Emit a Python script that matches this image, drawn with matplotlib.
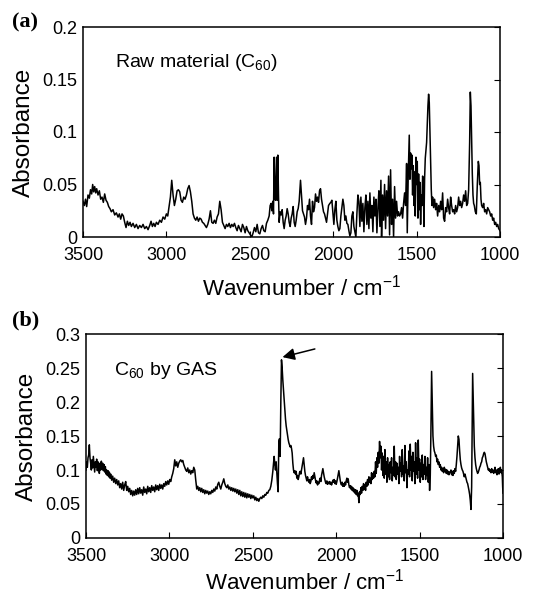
import matplotlib
matplotlib.use("Agg")
import matplotlib.pyplot as plt

# ---------------- data ----------------
wn_a = [3500, 3492, 3485, 3478, 3470, 3462, 3455, 3448, 3442, 3436, 3430, 3424, 3418, 3410, 3402, 3394, 3386, 3378, 3370, 3362,
        3354, 3346, 3338, 3330, 3320, 3310, 3300, 3290, 3282, 3274, 3266, 3258, 3250, 3242, 3234, 3226, 3218, 3210, 3200, 3190,
        3180, 3170, 3160, 3150, 3140, 3130, 3120, 3110, 3100, 3092, 3084, 3076, 3068, 3060, 3050, 3040, 3030, 3020, 3010, 3000,
        2992, 2984, 2976, 2968, 2960, 2952, 2944, 2936, 2928, 2920, 2912, 2904, 2896, 2888, 2880, 2872, 2864, 2856, 2848, 2840,
        2832, 2824, 2816, 2808, 2800, 2792, 2784, 2776, 2768, 2760, 2752, 2744, 2736, 2728, 2720, 2712, 2704, 2696, 2688, 2680,
        2672, 2664, 2656, 2648, 2640, 2632, 2624, 2616, 2608, 2600, 2592, 2584, 2576, 2568, 2560, 2552, 2544, 2536, 2528, 2520,
        2512, 2504, 2496, 2488, 2480, 2472, 2464, 2456, 2448, 2440, 2432, 2424, 2416, 2408, 2400, 2392, 2384, 2378, 2372, 2368,
        2362, 2358, 2354, 2350, 2346, 2340, 2336, 2332, 2328, 2324, 2318, 2312, 2306, 2300, 2294, 2288, 2282, 2276, 2270, 2264,
        2258, 2252, 2246, 2240, 2234, 2228, 2222, 2216, 2210, 2204, 2196, 2190, 2184, 2178, 2172, 2166, 2160, 2154, 2148, 2142,
        2136, 2130, 2124, 2118, 2112, 2106, 2100, 2094, 2088, 2082, 2076, 2070, 2064, 2058, 2052, 2046, 2040, 2034, 2028, 2020,
        2014, 2008, 2002, 1996, 1990, 1984, 1978, 1972, 1966, 1960, 1954, 1948, 1942, 1936, 1930, 1924, 1918, 1912, 1906, 1900,
        1894, 1888, 1882, 1876, 1870, 1864, 1858, 1852, 1846, 1840, 1834, 1828, 1822, 1816, 1810, 1804, 1798, 1792, 1786, 1780,
        1774, 1768, 1762, 1756, 1750, 1744, 1738, 1732, 1726, 1720, 1714, 1710, 1704, 1698, 1692, 1686, 1680, 1674, 1668, 1662,
        1656, 1650, 1644, 1638, 1632, 1626, 1620, 1614, 1608, 1602, 1596, 1590, 1584, 1578, 1572, 1566, 1560, 1556, 1550, 1544,
        1540, 1536, 1532, 1528, 1524, 1520, 1516, 1512, 1508, 1504, 1500, 1496, 1492, 1488, 1484, 1480, 1476, 1472, 1468, 1464,
        1460, 1456, 1452, 1448, 1444, 1440, 1436, 1432, 1428, 1424, 1420, 1416, 1412, 1408, 1404, 1398, 1392, 1386, 1380, 1374,
        1368, 1362, 1356, 1350, 1344, 1338, 1332, 1326, 1320, 1314, 1308, 1302, 1296, 1290, 1284, 1278, 1272, 1266, 1260, 1254,
        1248, 1242, 1236, 1230, 1224, 1218, 1212, 1206, 1200, 1194, 1188, 1182, 1178, 1174, 1170, 1166, 1162, 1158, 1154, 1148,
        1142, 1136, 1130, 1126, 1122, 1118, 1114, 1110, 1104, 1098, 1092, 1086, 1080, 1074, 1068, 1062, 1056, 1050, 1044, 1038,
        1032, 1026, 1020, 1014, 1008, 1000]
abs_a = [0.034, 0.030, 0.036, 0.029, 0.040, 0.037, 0.045, 0.041, 0.050, 0.043, 0.048, 0.042, 0.046, 0.040, 0.044, 0.036, 0.038, 0.033, 0.041, 0.035,
         0.033, 0.029, 0.027, 0.024, 0.026, 0.021, 0.023, 0.019, 0.022, 0.017, 0.022, 0.020, 0.014, 0.009, 0.015, 0.011, 0.014, 0.010, 0.013, 0.009,
         0.012, 0.008, 0.011, 0.009, 0.012, 0.008, 0.010, 0.007, 0.011, 0.015, 0.010, 0.013, 0.010, 0.014, 0.012, 0.016, 0.014, 0.019, 0.017, 0.022,
         0.020, 0.029, 0.038, 0.054, 0.040, 0.030, 0.036, 0.044, 0.045, 0.043, 0.035, 0.033, 0.038, 0.036, 0.040, 0.046, 0.049, 0.043, 0.034, 0.022,
         0.018, 0.016, 0.019, 0.015, 0.018, 0.017, 0.014, 0.013, 0.011, 0.009, 0.012, 0.017, 0.025, 0.014, 0.013, 0.016, 0.013, 0.019, 0.022, 0.034,
         0.026, 0.014, 0.011, 0.008, 0.012, 0.010, 0.013, 0.009, 0.012, 0.010, 0.013, 0.009, 0.006, 0.011, 0.008, 0.005, 0.012, 0.009, 0.004, 0.010,
         0.006, 0.004, 0.002, 0.000, 0.004, 0.009, 0.005, 0.012, 0.004, 0.003, 0.008, 0.011, 0.006, 0.005, 0.013, 0.016, 0.020, 0.030, 0.032, 0.025,
         0.034, 0.022, 0.076, 0.040, 0.035, 0.076, 0.035, 0.078, 0.040, 0.014, 0.024, 0.021, 0.026, 0.014, 0.008, 0.016, 0.020, 0.027, 0.022, 0.014,
         0.010, 0.018, 0.022, 0.029, 0.014, 0.010, 0.016, 0.024, 0.027, 0.034, 0.054, 0.040, 0.025, 0.022, 0.019, 0.012, 0.018, 0.030, 0.026, 0.036,
         0.020, 0.012, 0.034, 0.024, 0.028, 0.041, 0.034, 0.038, 0.033, 0.044, 0.046, 0.036, 0.030, 0.024, 0.022, 0.018, 0.014, 0.022, 0.030, 0.032,
         0.033, 0.035, 0.024, 0.012, 0.026, 0.034, 0.016, 0.010, 0.006, 0.008, 0.020, 0.028, 0.036, 0.030, 0.016, 0.020, 0.013, 0.012, 0.006, 0.001,
         0.004, 0.020, 0.024, 0.010, 0.005, 0.000, 0.022, 0.040, 0.034, 0.010, 0.038, 0.015, 0.032, 0.005, 0.028, 0.040, 0.012, 0.034, 0.008, 0.042,
         0.018, 0.030, 0.005, 0.038, 0.020, 0.036, 0.004, 0.028, 0.044, 0.010, 0.054, 0.000, 0.040, 0.016, 0.050, 0.008, 0.044, 0.020, 0.058, 0.002,
         0.064, 0.012, 0.036, 0.000, 0.048, 0.018, 0.034, 0.020, 0.024, 0.020, 0.022, 0.028, 0.018, 0.032, 0.042, 0.030, 0.070, 0.004, 0.060, 0.097,
         0.055, 0.080, 0.065, 0.078, 0.040, 0.068, 0.030, 0.062, 0.020, 0.076, 0.050, 0.072, 0.018, 0.060, 0.026, 0.052, 0.012, 0.040, 0.030, 0.058,
         0.055, 0.010, 0.056, 0.075, 0.082, 0.090, 0.108, 0.125, 0.136, 0.128, 0.100, 0.070, 0.045, 0.030, 0.038, 0.028, 0.036, 0.026, 0.032, 0.020,
         0.030, 0.024, 0.034, 0.026, 0.042, 0.018, 0.015, 0.028, 0.024, 0.036, 0.028, 0.022, 0.038, 0.030, 0.024, 0.026, 0.022, 0.030, 0.024, 0.028,
         0.038, 0.030, 0.034, 0.028, 0.032, 0.040, 0.034, 0.044, 0.030, 0.032, 0.045, 0.090, 0.138, 0.125, 0.090, 0.060, 0.040, 0.032, 0.030, 0.024,
         0.022, 0.050, 0.072, 0.068, 0.050, 0.052, 0.036, 0.030, 0.028, 0.032, 0.024, 0.026, 0.022, 0.028, 0.026, 0.024, 0.020, 0.022, 0.016, 0.018,
         0.012, 0.014, 0.010, 0.012, 0.008, 0.006]

wn_b = [3500, 3496, 3492, 3488, 3484, 3480, 3476, 3472, 3468, 3464, 3460, 3456, 3452, 3448, 3444, 3440, 3436, 3432, 3428, 3424,
        3420, 3416, 3412, 3408, 3404, 3400, 3396, 3392, 3388, 3384, 3380, 3376, 3372, 3368, 3364, 3360, 3356, 3352, 3346, 3340,
        3334, 3328, 3322, 3316, 3310, 3304, 3298, 3292, 3286, 3280, 3274, 3268, 3262, 3256, 3250, 3244, 3238, 3232, 3226, 3220,
        3214, 3208, 3202, 3196, 3190, 3184, 3178, 3172, 3166, 3160, 3154, 3148, 3142, 3136, 3130, 3124, 3118, 3112, 3106, 3100,
        3094, 3088, 3082, 3076, 3070, 3064, 3058, 3052, 3046, 3040, 3034, 3028, 3022, 3016, 3010, 3004, 2998, 2992, 2986, 2980,
        2974, 2968, 2962, 2956, 2950, 2944, 2938, 2932, 2926, 2920, 2914, 2908, 2902, 2896, 2890, 2884, 2878, 2872, 2866, 2860,
        2854, 2848, 2842, 2836, 2830, 2824, 2818, 2812, 2806, 2800, 2794, 2788, 2782, 2776, 2770, 2764, 2758, 2752, 2746, 2740,
        2734, 2728, 2722, 2716, 2710, 2704, 2698, 2692, 2686, 2680, 2674, 2668, 2662, 2656, 2650, 2644, 2638, 2632, 2626, 2620,
        2614, 2608, 2602, 2596, 2590, 2584, 2578, 2572, 2566, 2560, 2554, 2548, 2542, 2536, 2530, 2524, 2518, 2512, 2506, 2500,
        2494, 2488, 2482, 2476, 2470, 2464, 2458, 2452, 2446, 2440, 2434, 2428, 2422, 2416, 2410, 2404, 2398, 2392, 2386, 2380,
        2376, 2372, 2368, 2364, 2360, 2356, 2352, 2348, 2344, 2340, 2336, 2332, 2328, 2324, 2320, 2316, 2312, 2308, 2304, 2300,
        2296, 2292, 2288, 2284, 2280, 2276, 2272, 2268, 2264, 2260, 2256, 2252, 2248, 2244, 2240, 2236, 2232, 2228, 2224, 2220,
        2216, 2212, 2208, 2204, 2200, 2196, 2192, 2188, 2184, 2180, 2176, 2172, 2168, 2164, 2160, 2156, 2152, 2148, 2144, 2140,
        2136, 2132, 2128, 2124, 2120, 2116, 2112, 2108, 2104, 2100, 2096, 2092, 2088, 2084, 2080, 2076, 2072, 2068, 2064, 2060,
        2056, 2052, 2048, 2044, 2040, 2036, 2032, 2028, 2024, 2020, 2016, 2012, 2008, 2004, 2000, 1996, 1992, 1988, 1984, 1980,
        1976, 1972, 1968, 1964, 1960, 1956, 1952, 1948, 1944, 1940, 1936, 1932, 1928, 1924, 1920, 1916, 1912, 1908, 1904, 1900,
        1896, 1892, 1888, 1884, 1880, 1876, 1872, 1868, 1864, 1860, 1856, 1852, 1848, 1844, 1840, 1836, 1832, 1828, 1824, 1820,
        1816, 1812, 1808, 1804, 1800, 1796, 1792, 1788, 1784, 1780, 1776, 1772, 1768, 1764, 1760, 1756, 1752, 1748, 1744, 1740,
        1736, 1732, 1728, 1724, 1720, 1716, 1712, 1708, 1704, 1700, 1696, 1692, 1688, 1684, 1680, 1676, 1672, 1668, 1664, 1660,
        1656, 1652, 1648, 1644, 1640, 1636, 1632, 1628, 1624, 1620, 1616, 1612, 1608, 1604, 1600, 1596, 1592, 1588, 1584, 1580,
        1576, 1572, 1568, 1564, 1560, 1556, 1552, 1548, 1544, 1540, 1536, 1532, 1528, 1524, 1520, 1516, 1512, 1508, 1504, 1500,
        1496, 1492, 1488, 1484, 1480, 1476, 1472, 1468, 1464, 1460, 1456, 1452, 1448, 1444, 1440, 1436, 1432, 1428, 1424, 1420,
        1416, 1412, 1408, 1404, 1400, 1396, 1392, 1388, 1384, 1380, 1376, 1372, 1368, 1364, 1360, 1356, 1352, 1348, 1344, 1340,
        1336, 1332, 1328, 1324, 1320, 1316, 1312, 1308, 1304, 1300, 1296, 1292, 1288, 1284, 1280, 1276, 1272, 1268, 1264, 1260,
        1256, 1252, 1248, 1244, 1240, 1236, 1232, 1228, 1224, 1220, 1216, 1212, 1208, 1204, 1200, 1196, 1192, 1188, 1184, 1182,
        1180, 1176, 1172, 1168, 1164, 1160, 1156, 1152, 1148, 1144, 1140, 1136, 1132, 1128, 1124, 1120, 1116, 1112, 1108, 1104,
        1100, 1096, 1092, 1088, 1084, 1080, 1076, 1072, 1068, 1064, 1060, 1056, 1052, 1048, 1044, 1040, 1036, 1032, 1028, 1024,
        1020, 1016, 1012, 1008, 1004, 1002, 1000]
abs_b = [0.100, 0.112, 0.104, 0.118, 0.122, 0.137, 0.118, 0.110, 0.100, 0.115, 0.103, 0.120, 0.108, 0.097, 0.112, 0.104, 0.116, 0.099, 0.112, 0.105,
         0.095, 0.110, 0.100, 0.113, 0.102, 0.110, 0.099, 0.108, 0.097, 0.105, 0.094, 0.100, 0.092, 0.099, 0.090, 0.097, 0.088, 0.094, 0.085, 0.091,
         0.082, 0.088, 0.080, 0.086, 0.078, 0.084, 0.074, 0.080, 0.072, 0.082, 0.070, 0.078, 0.083, 0.070, 0.076, 0.068, 0.073, 0.064, 0.070, 0.062,
         0.069, 0.063, 0.071, 0.064, 0.073, 0.065, 0.074, 0.066, 0.071, 0.063, 0.075, 0.067, 0.072, 0.065, 0.076, 0.068, 0.074, 0.067, 0.077, 0.070,
         0.075, 0.068, 0.078, 0.071, 0.077, 0.070, 0.079, 0.073, 0.078, 0.072, 0.080, 0.076, 0.083, 0.078, 0.084, 0.079, 0.086, 0.083, 0.090, 0.095,
         0.102, 0.115, 0.106, 0.112, 0.104, 0.110, 0.113, 0.115, 0.112, 0.114, 0.108, 0.104, 0.100, 0.098, 0.103, 0.096, 0.100, 0.094, 0.099, 0.096,
         0.104, 0.100, 0.085, 0.072, 0.076, 0.070, 0.074, 0.068, 0.073, 0.067, 0.071, 0.065, 0.070, 0.066, 0.069, 0.064, 0.068, 0.065, 0.070, 0.067,
         0.072, 0.069, 0.075, 0.072, 0.079, 0.082, 0.076, 0.072, 0.078, 0.082, 0.087, 0.080, 0.076, 0.074, 0.078, 0.072, 0.075, 0.070, 0.074, 0.069,
         0.073, 0.068, 0.072, 0.066, 0.071, 0.064, 0.070, 0.062, 0.068, 0.061, 0.067, 0.060, 0.066, 0.059, 0.065, 0.060, 0.064, 0.058, 0.063, 0.059,
         0.062, 0.056, 0.060, 0.055, 0.058, 0.054, 0.058, 0.060, 0.058, 0.062, 0.060, 0.064, 0.063, 0.067, 0.066, 0.070, 0.071, 0.076, 0.085, 0.098,
         0.110, 0.120, 0.108, 0.100, 0.112, 0.095, 0.080, 0.068, 0.142, 0.146, 0.120, 0.200, 0.262, 0.250, 0.232, 0.218, 0.205, 0.190, 0.175, 0.165,
         0.158, 0.150, 0.145, 0.140, 0.137, 0.134, 0.136, 0.132, 0.125, 0.110, 0.100, 0.096, 0.099, 0.094, 0.098, 0.088, 0.092, 0.086, 0.090, 0.096,
         0.098, 0.094, 0.100, 0.105, 0.112, 0.118, 0.108, 0.098, 0.092, 0.088, 0.084, 0.090, 0.085, 0.082, 0.086, 0.080, 0.083, 0.090, 0.086, 0.092,
         0.088, 0.096, 0.090, 0.085, 0.081, 0.084, 0.078, 0.082, 0.080, 0.085, 0.088, 0.083, 0.092, 0.097, 0.102, 0.096, 0.090, 0.086, 0.082, 0.080,
         0.084, 0.079, 0.082, 0.080, 0.083, 0.079, 0.082, 0.078, 0.081, 0.085, 0.082, 0.086, 0.080, 0.084, 0.079, 0.083, 0.088, 0.094, 0.099, 0.092,
         0.085, 0.080, 0.078, 0.082, 0.076, 0.080, 0.076, 0.082, 0.078, 0.084, 0.088, 0.082, 0.087, 0.078, 0.074, 0.077, 0.072, 0.076, 0.070, 0.074,
         0.068, 0.072, 0.066, 0.071, 0.064, 0.070, 0.062, 0.066, 0.052, 0.068, 0.064, 0.074, 0.066, 0.076, 0.070, 0.080, 0.072, 0.078, 0.070, 0.082,
         0.076, 0.086, 0.078, 0.090, 0.082, 0.088, 0.080, 0.096, 0.086, 0.094, 0.088, 0.098, 0.090, 0.112, 0.095, 0.118, 0.104, 0.126, 0.110, 0.142,
         0.118, 0.135, 0.100, 0.125, 0.092, 0.120, 0.088, 0.130, 0.094, 0.112, 0.082, 0.118, 0.090, 0.108, 0.086, 0.112, 0.096, 0.118, 0.084, 0.104,
         0.092, 0.135, 0.090, 0.112, 0.086, 0.110, 0.094, 0.104, 0.080, 0.120, 0.098, 0.110, 0.090, 0.130, 0.094, 0.106, 0.084, 0.136, 0.096, 0.112,
         0.074, 0.100, 0.094, 0.128, 0.090, 0.138, 0.100, 0.120, 0.084, 0.126, 0.098, 0.112, 0.080, 0.140, 0.094, 0.118, 0.088, 0.144, 0.100, 0.116,
         0.082, 0.110, 0.090, 0.122, 0.086, 0.108, 0.094, 0.120, 0.086, 0.104, 0.092, 0.118, 0.082, 0.108, 0.070, 0.092, 0.160, 0.245, 0.200, 0.150,
         0.135, 0.128, 0.125, 0.120, 0.122, 0.112, 0.116, 0.108, 0.112, 0.104, 0.108, 0.100, 0.104, 0.098, 0.102, 0.096, 0.104, 0.098, 0.101, 0.095,
         0.100, 0.094, 0.098, 0.093, 0.097, 0.096, 0.100, 0.093, 0.098, 0.092, 0.099, 0.095, 0.102, 0.098, 0.108, 0.120, 0.135, 0.150, 0.145, 0.128,
         0.115, 0.108, 0.103, 0.100, 0.098, 0.094, 0.090, 0.094, 0.090, 0.086, 0.082, 0.080, 0.075, 0.070, 0.064, 0.055, 0.042, 0.075, 0.180, 0.242,
         0.220, 0.170, 0.135, 0.118, 0.108, 0.102, 0.098, 0.095, 0.097, 0.100, 0.104, 0.106, 0.110, 0.112, 0.118, 0.120, 0.124, 0.126, 0.124, 0.118,
         0.112, 0.108, 0.104, 0.100, 0.102, 0.098, 0.100, 0.096, 0.102, 0.097, 0.100, 0.095, 0.098, 0.104, 0.096, 0.100, 0.093, 0.098, 0.102, 0.094,
         0.098, 0.104, 0.096, 0.100, 0.090, 0.075, 0.066]

x_ticks = [3500, 3000, 2500, 2000, 1500, 1000]
y_ticks_a = [0, 0.05, 0.1, 0.15, 0.2]
y_ticks_b = [0, 0.05, 0.1, 0.15, 0.2, 0.25, 0.3]
y_labels_a = ["0", "0.05", "0.1", "0.15", "0.2"]
y_labels_b = ["0", "0.05", "0.1", "0.15", "0.2", "0.25", "0.3"]

# ---------------- style ----------------
plt.rcParams['font.family'] = ['Liberation Sans', 'DejaVu Sans']
plt.rcParams['mathtext.fontset'] = 'custom'
plt.rcParams['mathtext.rm'] = 'Liberation Sans'
plt.rcParams['mathtext.it'] = 'Liberation Sans'

fig = plt.figure(figsize=(5.41, 5.97), dpi=100)
ax_a = fig.add_axes([83/541, 1 - 237/597, 417/541, 210/597])
ax_b = fig.add_axes([86/541, 1 - 538/597, 417/541, 204/597])


def style(ax, yt, yl, ymax, label_y):
    ax.set_xlim(3500, 1000)
    ax.set_ylim(0, ymax)
    ax.set_xticks(x_ticks)
    ax.set_xticklabels([str(t) for t in x_ticks])
    ax.set_yticks(yt)
    ax.set_yticklabels(yl)
    ax.tick_params(axis='y', which='both', left=False, right=True, labelleft=True,
                   labelright=False, direction='in', length=4.5, width=0.8, labelsize=13, pad=4)
    ax.tick_params(axis='x', which='both', bottom=True, top=False, direction='in',
                   length=4.5, width=0.8, labelsize=13, pad=7)
    for s in ax.spines.values():
        s.set_linewidth(1.1)
    ax.set_ylabel("Absorbance", fontsize=17.5, labelpad=5)
    ax.set_xlabel("Wavenumber / cm$^{\\mathregular{-1}}$", fontsize=16)
    ax.xaxis.set_label_coords(0.525, label_y)


ax_a.plot(wn_a, abs_a, color='black', lw=1.1)
style(ax_a, y_ticks_a, y_labels_a, 0.2, -0.18)
ax_a.text(0.077, 0.83, "Raw material (C$_{\\mathregular{60}}$)", transform=ax_a.transAxes,
          fontsize=14, va='center', ha='left')

ax_b.plot(wn_b, abs_b, color='black', lw=1.1)
style(ax_b, y_ticks_b, y_labels_b, 0.3, -0.15)
ax_b.text(0.067, 0.82, "C$_{\\mathregular{60}}$ by GAS", transform=ax_b.transAxes,
          fontsize=14, va='center', ha='left')
ax_b.annotate("", xy=(2322, 0.266), xytext=(2128, 0.278),
              arrowprops=dict(arrowstyle='-|>', color='black', lw=1.1,
                              mutation_scale=18, shrinkA=0, shrinkB=0))

fig.text(12/541, 1 - 22/597, "(a)", fontsize=16, fontweight='bold',
         family='Liberation Serif', va='center', ha='left')
fig.text(12/541, 1 - 320/597, "(b)", fontsize=16, fontweight='bold',
         family='Liberation Serif', va='center', ha='left')

fig.savefig("out.png", dpi=100)
